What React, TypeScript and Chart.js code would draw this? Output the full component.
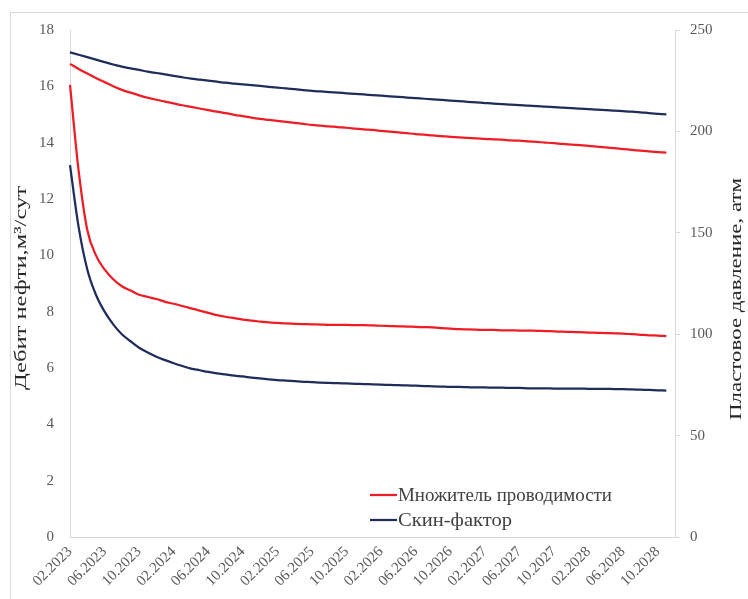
import React, { useEffect, useRef } from "react";
import { Chart, registerables } from "chart.js";

Chart.register(...registerables);

const months: string[] = [
  "02.2023", "03.2023", "04.2023", "05.2023", "06.2023", "07.2023", "08.2023", "09.2023", "10.2023", "11.2023", "12.2023",
  "01.2024", "02.2024", "03.2024", "04.2024", "05.2024", "06.2024", "07.2024", "08.2024", "09.2024", "10.2024", "11.2024", "12.2024",
  "01.2025", "02.2025", "03.2025", "04.2025", "05.2025", "06.2025", "07.2025", "08.2025", "09.2025", "10.2025", "11.2025", "12.2025",
  "01.2026", "02.2026", "03.2026", "04.2026", "05.2026", "06.2026", "07.2026", "08.2026", "09.2026", "10.2026", "11.2026", "12.2026",
  "01.2027", "02.2027", "03.2027", "04.2027", "05.2027", "06.2027", "07.2027", "08.2027", "09.2027", "10.2027", "11.2027", "12.2027",
  "01.2028", "02.2028", "03.2028", "04.2028", "05.2028", "06.2028", "07.2028", "08.2028", "09.2028", "10.2028", "11.2028", "12.2028",
];

// Oil rate, m3/day (left axis)
const rateConductivity: number[] = [
  16.05, 13.0, 10.9, 10.0, 9.5, 9.15, 8.9, 8.75, 8.6, 8.52, 8.45, 8.35, 8.28, 8.2, 8.12, 8.04, 7.96, 7.88, 7.82, 7.77,
  7.72, 7.68, 7.65, 7.62, 7.6, 7.58, 7.57, 7.56, 7.55, 7.54, 7.53, 7.53, 7.53, 7.52, 7.52, 7.51, 7.5, 7.49, 7.48, 7.47,
  7.46, 7.45, 7.44, 7.42, 7.4, 7.38, 7.37, 7.36, 7.35, 7.35, 7.34, 7.34, 7.33, 7.33, 7.32, 7.31, 7.3, 7.29, 7.28, 7.27,
  7.26, 7.25, 7.24, 7.23, 7.22, 7.2, 7.18, 7.16, 7.15, 7.13,
];
const rateSkin: number[] = [
  13.2, 11.0, 9.5, 8.6, 8.0, 7.55, 7.2, 6.95, 6.72, 6.55, 6.4, 6.28, 6.17, 6.07, 5.98, 5.92, 5.86, 5.81, 5.77, 5.73,
  5.7, 5.66, 5.63, 5.6, 5.57, 5.55, 5.53, 5.51, 5.5, 5.48, 5.47, 5.46, 5.45, 5.44, 5.43, 5.42, 5.41, 5.4, 5.39, 5.38,
  5.37, 5.36, 5.35, 5.34, 5.33, 5.33, 5.32, 5.31, 5.31, 5.3, 5.3, 5.29, 5.29, 5.28, 5.28, 5.28, 5.27, 5.27, 5.27, 5.27,
  5.26, 5.26, 5.26, 5.25, 5.25, 5.24, 5.23, 5.22, 5.21, 5.2,
];

// Reservoir pressure, atm (right axis)
const pressureConductivity: number[] = [
  233.3, 230.8, 228.5, 226.3, 224.3, 222.3, 220.5, 219.1, 217.8, 216.6, 215.6, 214.7, 213.8, 212.9, 212.1, 211.3, 210.5, 209.7, 209.0, 208.2,
  207.5, 206.8, 206.2, 205.7, 205.2, 204.7, 204.2, 203.7, 203.2, 202.8, 202.5, 202.1, 201.8, 201.4, 201.0, 200.7, 200.3, 199.9, 199.5, 199.1,
  198.7, 198.4, 198.0, 197.7, 197.3, 197.1, 196.8, 196.6, 196.3, 196.1, 195.9, 195.6, 195.4, 195.1, 194.8, 194.5, 194.2, 193.8, 193.5, 193.2,
  192.9, 192.5, 192.1, 191.7, 191.3, 190.9, 190.5, 190.1, 189.8, 189.5,
];
const pressureSkin: number[] = [
  239.0, 237.8, 236.6, 235.4, 234.2, 233.0, 231.9, 231.1, 230.3, 229.5, 228.8, 228.1, 227.4, 226.7, 226.0, 225.5, 225.0, 224.5, 224.0, 223.6,
  223.2, 222.8, 222.4, 222.0, 221.6, 221.2, 220.8, 220.4, 220.0, 219.7, 219.4, 219.1, 218.8, 218.5, 218.2, 217.9, 217.6, 217.3, 217.0, 216.7,
  216.4, 216.1, 215.8, 215.5, 215.2, 214.9, 214.6, 214.3, 214.0, 213.7, 213.5, 213.2, 213.0, 212.7, 212.5, 212.2, 212.0, 211.7, 211.5, 211.2,
  211.0, 210.7, 210.5, 210.2, 210.0, 209.7, 209.4, 209.0, 208.7, 208.4,
];

const seriesNames: string[] = ["Множитель проводимости", "Скин-фактор"];
const leftTitle = "Дебит нефти,м³/сут";
const rightTitle = "Пластовое давление, атм";

const RED = "#EE1C25";
const NAVY = "#1F2D5A";
const FONT = "'Liberation Serif', 'Times New Roman', serif";

function drawStretched(ctx: CanvasRenderingContext2D, text: string, cx: number, cy: number, targetLen: number) {
  ctx.save();
  ctx.translate(cx, cy);
  ctx.rotate(-Math.PI / 2);
  const w = ctx.measureText(text).width;
  ctx.scale(targetLen / w, 1);
  ctx.fillText(text, 0, 0);
  ctx.restore();
}

const overlayPlugin = {
  id: "overlay",
  afterDraw(chart: any) {
    const ctx = chart.ctx;
    ctx.save();
    ctx.fillStyle = "#262626";
    ctx.font = `17px ${FONT}`;
    ctx.textAlign = "center";
    ctx.textBaseline = "middle";
    drawStretched(ctx, leftTitle, 22, 288, 204);
    drawStretched(ctx, rightTitle, 737, 299, 242);

    // legend
    const colors = [RED, NAVY];
    const lx = 370;
    const ly = [495, 520];
    ctx.font = `18px ${FONT}`;
    ctx.textAlign = "left";
    ctx.fillStyle = "#404040";
    seriesNames.forEach((name, i) => {
      ctx.strokeStyle = colors[i];
      ctx.lineWidth = 2.25;
      ctx.beginPath();
      ctx.moveTo(lx, ly[i]);
      ctx.lineTo(lx + 27, ly[i]);
      ctx.stroke();
      ctx.save();
      ctx.translate(lx + 28, ly[i] + 1);
      const w = ctx.measureText(name).width;
      const target = i === 0 ? 214 : 114;
      ctx.scale(Math.max(0.9, Math.min(1.15, target / w)), 1);
      ctx.fillText(name, 0, 0);
      ctx.restore();
    });
    ctx.restore();
  },
};

export default function App() {
  const canvasRef = useRef<HTMLCanvasElement | null>(null);

  useEffect(() => {
    if (!canvasRef.current) return;
    const lineBase = {
      pointRadius: 0,
      borderWidth: 2.25,
      cubicInterpolationMode: "monotone" as const,
      fill: false,
    };
    const chart = new Chart(canvasRef.current, {
      type: "line",
      data: {
        labels: months,
        datasets: [
          { ...lineBase, label: seriesNames[0], data: rateConductivity, borderColor: RED, yAxisID: "y" },
          { ...lineBase, label: seriesNames[1], data: rateSkin, borderColor: NAVY, yAxisID: "y" },
          { ...lineBase, label: seriesNames[0] + " (давление)", data: pressureConductivity, borderColor: RED, yAxisID: "y1" },
          { ...lineBase, label: seriesNames[1] + " (давление)", data: pressureSkin, borderColor: NAVY, yAxisID: "y1" },
        ],
      },
      options: {
        responsive: false,
        animation: false,
        devicePixelRatio: 1,
        layout: { padding: { top: 30, left: 0, right: 0, bottom: 0 } },
        plugins: {
          legend: { display: false },
          tooltip: { enabled: false },
        },
        scales: {
          x: {
            type: "category",
            offset: false,
            grid: { display: false, drawTicks: false },
            border: { display: true, color: "#D9D9D9", width: 1 },
            ticks: {
              autoSkip: false,
              maxRotation: 45,
              minRotation: 45,
              padding: 6,
              color: "#595959",
              font: { family: FONT, size: 15 },
              callback: (_v: any, i: number) => (i % 4 === 0 ? months[i] : null),
            },
            afterFit: (s: any) => {
              s.height = 62;
            },
          },
          y: {
            position: "left",
            min: 0,
            max: 18,
            grid: { display: false, drawTicks: false },
            border: { display: true, color: "#D9D9D9", width: 1 },
            ticks: {
              stepSize: 2,
              padding: 16,
              color: "#595959",
              font: { family: FONT, size: 15 },
            },
            afterFit: (s: any) => {
              s.width = 70;
            },
          },
          y1: {
            position: "right",
            min: 0,
            max: 250,
            grid: { drawOnChartArea: false, drawTicks: true, tickLength: 5, color: "#D9D9D9" },
            border: { display: true, color: "#D9D9D9", width: 1 },
            ticks: {
              stepSize: 50,
              padding: 10,
              color: "#595959",
              font: { family: FONT, size: 15 },
            },
            afterFit: (s: any) => {
              s.width = 73;
            },
          },
        },
      },
      plugins: [overlayPlugin],
    });
    return () => chart.destroy();
  }, []);

  return (
    <div style={{ position: "fixed", left: 0, top: 0, width: 748, height: 599, background: "#fff", overflow: "hidden" }}>
      <div
        style={{
          position: "absolute",
          left: 10,
          top: 12,
          width: 800,
          height: 700,
          border: "1px solid #D9D9D9",
        }}
      />
      <canvas ref={canvasRef} width={748} height={599} style={{ position: "absolute", left: 0, top: 0 }} />
    </div>
  );
}
